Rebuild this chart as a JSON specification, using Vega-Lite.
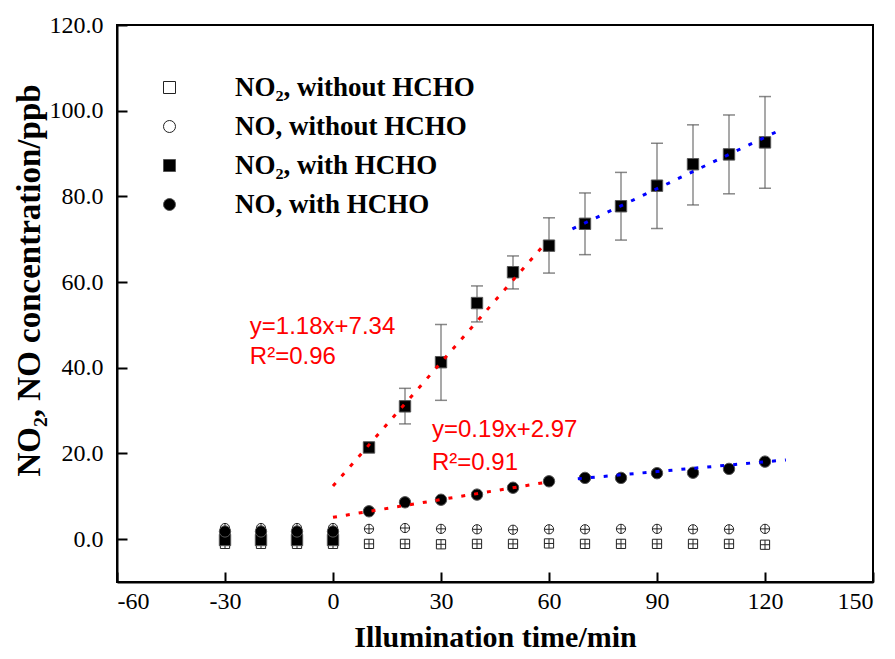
{
  "$schema": "https://vega.github.io/schema/vega-lite/v6.json",
  "width": 756,
  "height": 557,
  "autosize": "none",
  "padding": {"left": 117, "top": 25, "right": 22, "bottom": 77},
  "background": "white",
  "config": {
    "view": {"stroke": "black", "strokeWidth": 2},
    "font": "Liberation Serif",
    "axis": {
      "grid": false,
      "domainColor": "black",
      "domainWidth": 2,
      "tickColor": "black",
      "tickWidth": 2,
      "tickSize": -10,
      "labelFont": "Liberation Serif",
      "labelFontSize": 24,
      "labelColor": "black",
      "titleFont": "Liberation Serif",
      "titleFontWeight": "bold",
      "titleColor": "black"
    },
    "axisX": {"labelPadding": 17, "titlePadding": 9, "titleFontSize": 30},
    "axisY": {"labelPadding": 24, "titlePadding": 3, "titleFontSize": 33, "titleY": 255},
    "legend": {
      "orient": "none",
      "legendX": 39,
      "legendY": 49,
      "labelFont": "Liberation Serif",
      "labelFontSize": 27,
      "labelFontWeight": "bold",
      "labelColor": "black",
      "labelOffset": 52,
      "rowPadding": 11,
      "symbolSize": 144,
      "symbolStrokeWidth": 1,
      "labelLimit": 400
    }
  },
  "datasets": {
    "pts": [
      {"t": -30, "v": -1.1, "s": "NO₂, without HCHO"},
      {"t": -20, "v": -1.1, "s": "NO₂, without HCHO"},
      {"t": -10, "v": -1.1, "s": "NO₂, without HCHO"},
      {"t": 0, "v": -1.1, "s": "NO₂, without HCHO"},
      {"t": 10, "v": -1.1, "s": "NO₂, without HCHO"},
      {"t": 20, "v": -1.1, "s": "NO₂, without HCHO"},
      {"t": 30, "v": -1.2, "s": "NO₂, without HCHO"},
      {"t": 40, "v": -1.1, "s": "NO₂, without HCHO"},
      {"t": 50, "v": -1.1, "s": "NO₂, without HCHO"},
      {"t": 60, "v": -1.0, "s": "NO₂, without HCHO"},
      {"t": 70, "v": -1.1, "s": "NO₂, without HCHO"},
      {"t": 80, "v": -1.1, "s": "NO₂, without HCHO"},
      {"t": 90, "v": -1.1, "s": "NO₂, without HCHO"},
      {"t": 100, "v": -1.1, "s": "NO₂, without HCHO"},
      {"t": 110, "v": -1.1, "s": "NO₂, without HCHO"},
      {"t": 120, "v": -1.3, "s": "NO₂, without HCHO"},
      {"t": -30, "v": 2.6, "s": "NO,  without HCHO"},
      {"t": -20, "v": 2.6, "s": "NO,  without HCHO"},
      {"t": -10, "v": 2.6, "s": "NO,  without HCHO"},
      {"t": 0, "v": 2.6, "s": "NO,  without HCHO"},
      {"t": 10, "v": 2.4, "s": "NO,  without HCHO"},
      {"t": 20, "v": 2.6, "s": "NO,  without HCHO"},
      {"t": 30, "v": 2.4, "s": "NO,  without HCHO"},
      {"t": 40, "v": 2.3, "s": "NO,  without HCHO"},
      {"t": 50, "v": 2.2, "s": "NO,  without HCHO"},
      {"t": 60, "v": 2.3, "s": "NO,  without HCHO"},
      {"t": 70, "v": 2.3, "s": "NO,  without HCHO"},
      {"t": 80, "v": 2.4, "s": "NO,  without HCHO"},
      {"t": 90, "v": 2.4, "s": "NO,  without HCHO"},
      {"t": 100, "v": 2.3, "s": "NO,  without HCHO"},
      {"t": 110, "v": 2.3, "s": "NO,  without HCHO"},
      {"t": 120, "v": 2.4, "s": "NO,  without HCHO"},
      {"t": -30, "v": -0.2, "s": "NO₂, with HCHO"},
      {"t": -20, "v": -0.2, "s": "NO₂, with HCHO"},
      {"t": -10, "v": -0.2, "s": "NO₂, with HCHO"},
      {"t": 0, "v": -0.2, "s": "NO₂, with HCHO"},
      {"t": 10, "v": 21.4, "s": "NO₂, with HCHO"},
      {"t": 20, "v": 31.0, "s": "NO₂, with HCHO", "lo": 26.9, "hi": 35.2},
      {"t": 30, "v": 41.3, "s": "NO₂, with HCHO", "lo": 32.4, "hi": 50.1},
      {"t": 40, "v": 55.1, "s": "NO₂, with HCHO", "lo": 50.7, "hi": 59.1},
      {"t": 50, "v": 62.3, "s": "NO₂, with HCHO", "lo": 58.4, "hi": 66.1},
      {"t": 60, "v": 68.5, "s": "NO₂, with HCHO", "lo": 62.1, "hi": 75.0},
      {"t": 70, "v": 73.6, "s": "NO₂, with HCHO", "lo": 66.4, "hi": 80.8},
      {"t": 80, "v": 77.7, "s": "NO₂, with HCHO", "lo": 69.8, "hi": 85.6},
      {"t": 90, "v": 82.5, "s": "NO₂, with HCHO", "lo": 72.5, "hi": 92.4},
      {"t": 100, "v": 87.5, "s": "NO₂, with HCHO", "lo": 78.0, "hi": 96.7},
      {"t": 110, "v": 89.8, "s": "NO₂, with HCHO", "lo": 80.6, "hi": 99.0},
      {"t": 120, "v": 92.6, "s": "NO₂, with HCHO", "lo": 81.9, "hi": 103.3},
      {"t": -30, "v": 1.8, "s": "NO,  with HCHO"},
      {"t": -20, "v": 1.8, "s": "NO,  with HCHO"},
      {"t": -10, "v": 1.8, "s": "NO,  with HCHO"},
      {"t": 0, "v": 1.8, "s": "NO,  with HCHO"},
      {"t": 10, "v": 6.5, "s": "NO,  with HCHO"},
      {"t": 20, "v": 8.6, "s": "NO,  with HCHO"},
      {"t": 30, "v": 9.2, "s": "NO,  with HCHO"},
      {"t": 40, "v": 10.4, "s": "NO,  with HCHO"},
      {"t": 50, "v": 12.0, "s": "NO,  with HCHO"},
      {"t": 60, "v": 13.5, "s": "NO,  with HCHO"},
      {"t": 70, "v": 14.3, "s": "NO,  with HCHO"},
      {"t": 80, "v": 14.3, "s": "NO,  with HCHO"},
      {"t": 90, "v": 15.4, "s": "NO,  with HCHO"},
      {"t": 100, "v": 15.5, "s": "NO,  with HCHO"},
      {"t": 110, "v": 16.4, "s": "NO,  with HCHO"},
      {"t": 120, "v": 18.1, "s": "NO,  with HCHO"}
    ],
    "fits": [
      {"fit": "NO2 early", "t": 0, "v": 12.4},
      {"fit": "NO2 early", "t": 58.5, "v": 68.6},
      {"fit": "NO2 late", "t": 66.5, "v": 72.4},
      {"fit": "NO2 late", "t": 124, "v": 95.4},
      {"fit": "NO early", "t": 0, "v": 5.1},
      {"fit": "NO early", "t": 59.4, "v": 13.3},
      {"fit": "NO late", "t": 68, "v": 14.1},
      {"fit": "NO late", "t": 125.8, "v": 18.5}
    ],
    "notes": [
      {"t": -23.1, "v": 49.4, "label": "y=1.18x+7.34"},
      {"t": -23.1, "v": 42.4, "label": "R²=0.96"},
      {"t": 27.5, "v": 25.4, "label": "y=0.19x+2.97"},
      {"t": 27.5, "v": 17.7, "label": "R²=0.91"}
    ]
  },
  "encoding": {
    "x": {
      "field": "t",
      "type": "quantitative",
      "title": "Illumination time/min",
      "scale": {"domain": [-60, 150], "nice": false, "zero": false},
      "axis": {"values": [-60, -30, 0, 30, 60, 90, 120, 150],
               "labelExpr": "datum.value < 0 ? '-' + abs(datum.value) : '' + datum.value",
               "encode": {"labels": {"update": {"font": {"value": "Liberation Serif"}, "fontSize": {"value": 24}, "fill": {"value": "black"}}}}}
    }
  },
  "layer": [
    {
      "data": {"name": "pts"},
      "transform": [{"filter": "isValid(datum.lo)"}],
      "mark": {"type": "rule", "color": "#8c8c8c", "strokeWidth": 1.5},
      "encoding": {
        "y": {"field": "lo", "type": "quantitative", "title": "NO₂, NO concentration/ppb",
              "scale": {"domain": [-10, 120], "nice": false, "zero": false},
              "axis": {"values": [0, 20, 40, 60, 80, 100, 120], "format": ".1f",
                       "encode": {"labels": {"update": {"font": {"value": "Liberation Serif"}, "fontSize": {"value": 24}, "fill": {"value": "black"}}}}}},
        "y2": {"field": "hi"}
      }
    },
    {
      "data": {"name": "pts"},
      "transform": [{"filter": "isValid(datum.lo)"}],
      "mark": {"type": "tick", "orient": "horizontal", "size": 12, "thickness": 1.5, "color": "#555555"},
      "encoding": {
        "y": {"field": "lo", "type": "quantitative", "title": "NO₂, NO concentration/ppb",
              "scale": {"domain": [-10, 120], "nice": false, "zero": false},
              "axis": {"values": [0, 20, 40, 60, 80, 100, 120], "format": ".1f",
                       "encode": {"labels": {"update": {"font": {"value": "Liberation Serif"}, "fontSize": {"value": 24}, "fill": {"value": "black"}}}}}}
      }
    },
    {
      "data": {"name": "pts"},
      "transform": [{"filter": "isValid(datum.hi)"}],
      "mark": {"type": "tick", "orient": "horizontal", "size": 12, "thickness": 1.5, "color": "#555555"},
      "encoding": {
        "y": {"field": "hi", "type": "quantitative", "title": "NO₂, NO concentration/ppb",
              "scale": {"domain": [-10, 120], "nice": false, "zero": false},
              "axis": {"values": [0, 20, 40, 60, 80, 100, 120], "format": ".1f",
                       "encode": {"labels": {"update": {"font": {"value": "Liberation Serif"}, "fontSize": {"value": 24}, "fill": {"value": "black"}}}}}}
      }
    },
    {
      "data": {"name": "pts"},
      "transform": [{"filter": {"field": "s", "oneOf": ["NO₂, without HCHO", "NO,  without HCHO"]}}],
      "mark": {"type": "point", "filled": true, "size": 85, "strokeWidth": 1, "opacity": 1},
      "encoding": {
        "y": {"field": "v", "type": "quantitative", "title": "NO₂, NO concentration/ppb",
              "scale": {"domain": [-10, 120], "nice": false, "zero": false},
              "axis": {"values": [0, 20, 40, 60, 80, 100, 120], "format": ".1f",
                       "encode": {"labels": {"update": {"font": {"value": "Liberation Serif"}, "fontSize": {"value": 24}, "fill": {"value": "black"}}}}}},
        "shape": {"field": "s", "type": "nominal", "title": null,
                  "scale": {"domain": ["NO₂, without HCHO", "NO,  without HCHO", "NO₂, with HCHO", "NO,  with HCHO"],
                            "range": ["square", "circle", "square", "circle"]}},
        "fill": {"field": "s", "type": "nominal", "title": null,
                 "scale": {"domain": ["NO₂, without HCHO", "NO,  without HCHO", "NO₂, with HCHO", "NO,  with HCHO"],
                           "range": ["white", "white", "black", "black"]}},
        "stroke": {"field": "s", "type": "nominal", "title": null,
                   "scale": {"domain": ["NO₂, without HCHO", "NO,  without HCHO", "NO₂, with HCHO", "NO,  with HCHO"],
                             "range": ["#222222", "#222222", "#555555", "#555555"]}}
      }
    },
    {
      "data": {"name": "pts"},
      "transform": [{"filter": {"field": "s", "oneOf": ["NO₂, without HCHO", "NO,  without HCHO"]}}],
      "mark": {"type": "point", "filled": false, "shape": "M-1,0H1M0,-1V1", "size": 85, "stroke": "#222222", "strokeWidth": 1, "opacity": 1},
      "encoding": {
        "y": {"field": "v", "type": "quantitative", "title": "NO₂, NO concentration/ppb",
              "scale": {"domain": [-10, 120], "nice": false, "zero": false},
              "axis": {"values": [0, 20, 40, 60, 80, 100, 120], "format": ".1f",
                       "encode": {"labels": {"update": {"font": {"value": "Liberation Serif"}, "fontSize": {"value": 24}, "fill": {"value": "black"}}}}}}
      }
    },
    {
      "data": {"name": "pts"},
      "transform": [{"filter": {"field": "s", "oneOf": ["NO₂, with HCHO", "NO,  with HCHO"]}}],
      "mark": {"type": "point", "filled": true, "size": 130, "strokeWidth": 1, "opacity": 1},
      "encoding": {
        "y": {"field": "v", "type": "quantitative", "title": "NO₂, NO concentration/ppb",
              "scale": {"domain": [-10, 120], "nice": false, "zero": false},
              "axis": {"values": [0, 20, 40, 60, 80, 100, 120], "format": ".1f",
                       "encode": {"labels": {"update": {"font": {"value": "Liberation Serif"}, "fontSize": {"value": 24}, "fill": {"value": "black"}}}}}},
        "shape": {"field": "s", "type": "nominal", "title": null,
                  "scale": {"domain": ["NO₂, without HCHO", "NO,  without HCHO", "NO₂, with HCHO", "NO,  with HCHO"],
                            "range": ["square", "circle", "square", "circle"]}},
        "fill": {"field": "s", "type": "nominal", "title": null,
                 "scale": {"domain": ["NO₂, without HCHO", "NO,  without HCHO", "NO₂, with HCHO", "NO,  with HCHO"],
                           "range": ["white", "white", "black", "black"]}},
        "stroke": {"field": "s", "type": "nominal", "title": null,
                   "scale": {"domain": ["NO₂, without HCHO", "NO,  without HCHO", "NO₂, with HCHO", "NO,  with HCHO"],
                             "range": ["#222222", "#222222", "#555555", "#555555"]}}
      }
    },
    {
      "data": {"name": "fits"},
      "mark": {"type": "line", "strokeDash": [4, 9], "strokeWidth": 3},
      "encoding": {
        "y": {"field": "v", "type": "quantitative", "title": "NO₂, NO concentration/ppb",
              "scale": {"domain": [-10, 120], "nice": false, "zero": false},
              "axis": {"values": [0, 20, 40, 60, 80, 100, 120], "format": ".1f",
                       "encode": {"labels": {"update": {"font": {"value": "Liberation Serif"}, "fontSize": {"value": 24}, "fill": {"value": "black"}}}}}},
        "detail": {"field": "fit", "type": "nominal"},
        "color": {"field": "fit", "type": "nominal", "legend": null,
                  "scale": {"domain": ["NO2 early", "NO2 late", "NO early", "NO late"],
                            "range": ["#ff0000", "#0000ff", "#ff0000", "#0000ff"]}}
      }
    },
    {
      "data": {"name": "notes"},
      "mark": {"type": "text", "align": "left", "baseline": "middle", "font": "Liberation Sans", "fontSize": 24, "color": "#ff0000"},
      "encoding": {
        "y": {"field": "v", "type": "quantitative", "title": "NO₂, NO concentration/ppb",
              "scale": {"domain": [-10, 120], "nice": false, "zero": false},
              "axis": {"values": [0, 20, 40, 60, 80, 100, 120], "format": ".1f",
                       "encode": {"labels": {"update": {"font": {"value": "Liberation Serif"}, "fontSize": {"value": 24}, "fill": {"value": "black"}}}}}},
        "text": {"field": "label"}
      }
    }
  ]
}
